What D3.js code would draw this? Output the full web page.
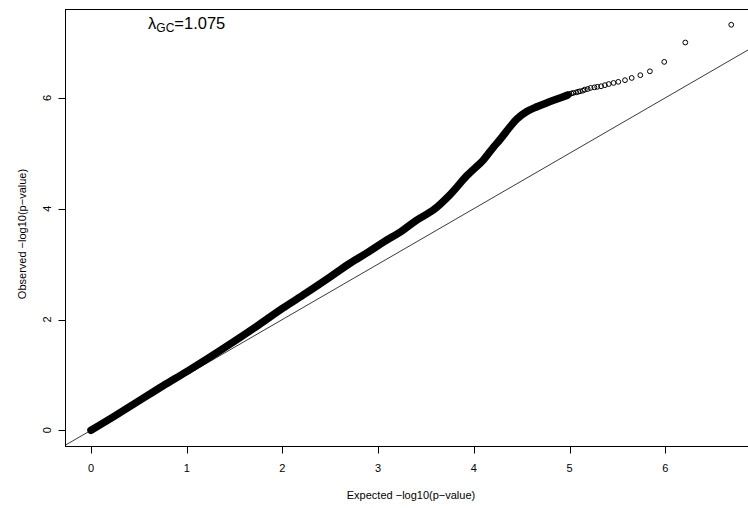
<!DOCTYPE html>
<html>
<head>
<meta charset="utf-8">
<script src="https://cdn.jsdelivr.net/npm/d3@7"></script>
<style>
	body { margin: 0; background: #fff; }
	svg { display: block; font-family: "Liberation Sans", Arial, sans-serif; }
	.box { fill: none; stroke: #000; stroke-width: 1; }
	text { fill: #000; }
</style>
</head>
<body>
<svg id="chart"></svg>
<script>
// dense part of the QQ cloud (expected, observed)
var qqExpected = [0.00, 0.25, 0.50, 0.75, 1.00, 1.25, 1.50, 1.75, 2.00, 2.25, 2.50, 2.71,
	2.90, 3.06, 3.25, 3.40, 3.58, 3.75, 3.93, 4.10, 4.20, 4.27, 4.38, 4.45, 4.55, 4.66,
	4.76, 4.87, 4.98];
var qqObserved = [0.00, 0.26, 0.53, 0.80, 1.06, 1.33, 1.61, 1.90, 2.20, 2.48, 2.77, 3.02,
	3.22, 3.40, 3.60, 3.79, 3.98, 4.25, 4.60, 4.88, 5.10, 5.24, 5.48, 5.62, 5.75, 5.84,
	5.91, 5.98, 6.05];

// separate points at the top end
var tailExpected = [6.69, 6.21, 5.99, 5.84, 5.74, 5.65, 5.58, 5.51, 5.46, 5.41, 5.37, 5.33,
	5.29, 5.26, 5.22, 5.19, 5.16, 5.14, 5.11, 5.09, 5.07, 5.04, 5.02, 5.00, 4.98];
var tailObserved = [7.32, 7.00, 6.65, 6.48, 6.41, 6.36, 6.32, 6.29, 6.27, 6.25, 6.23, 6.21,
	6.20, 6.19, 6.18, 6.16, 6.15, 6.13, 6.12, 6.11, 6.10, 6.09, 6.08, 6.07, 6.06];

var xTicks = [0, 1, 2, 3, 4, 5, 6];
var yTicks = [0, 2, 4, 6];
var lambdaLabel = "1.075";

var width = 748;
var height = 508;
var boxLeft = 65.5;
var boxTop = 9.5;
var boxRight = 750;
var boxBottom = 446.5;
var tickLen = 7;

var x = d3.scaleLinear().domain([0, 6]).range([91, 665.2]);
var y = d3.scaleLinear().domain([0, 6]).range([430.3, 97.9]);

var svg = d3.select("#chart")
.attr("width", width)
.attr("height", height);

svg.append("defs").append("clipPath")
.attr("id", "plotClip")
.append("rect")
.attr("x", boxLeft)
.attr("y", boxTop)
.attr("width", boxRight-boxLeft)
.attr("height", boxBottom-boxTop);

var gPlot = svg.append("g")
.attr("clip-path", "url(#plotClip)");

// y = x reference line across the whole box
var lo = x.invert(boxLeft), hi = x.invert(boxRight);
gPlot.append("line")
.attr("x1", x(lo))
.attr("y1", y(lo))
.attr("x2", x(hi))
.attr("y2", y(hi))
.attr("stroke", "#222")
.attr("stroke-width", 0.9);

// the overlapping circles form a solid band
var band = qqExpected.map(function(e, i) { return [e, qqObserved[i]]; });
gPlot.append("path")
.attr("d", d3.line()
	.curve(d3.curveCatmullRom)
	.x(function(d) { return x(d[0]); })
	.y(function(d) { return y(d[1]); })(band))
.attr("fill", "none")
.attr("stroke", "#000")
.attr("stroke-width", 7.5)
.attr("stroke-linecap", "round")
.attr("stroke-linejoin", "round");

gPlot.selectAll("circle.tail")
.data(tailExpected)
.enter().append("circle")
.attr("class", "tail")
.attr("cx", function(d) { return x(d); })
.attr("cy", function(d, i) { return y(tailObserved[i]); })
.attr("r", 2.4)
.attr("fill", "none")
.attr("stroke", "#000")
.attr("stroke-width", 1);

svg.append("rect")
.attr("class", "box")
.attr("x", boxLeft)
.attr("y", boxTop)
.attr("width", boxRight-boxLeft)
.attr("height", boxBottom-boxTop);

// x axis
var gx = svg.append("g");
gx.selectAll("line")
.data(xTicks)
.enter().append("line")
.attr("x1", function(d) { return Math.round(x(d))+0.5; })
.attr("x2", function(d) { return Math.round(x(d))+0.5; })
.attr("y1", boxBottom)
.attr("y2", boxBottom+tickLen)
.attr("stroke", "#000");
gx.selectAll("text")
.data(xTicks)
.enter().append("text")
.attr("x", function(d) { return x(d); })
.attr("y", 472)
.attr("text-anchor", "middle")
.attr("font-size", 11)
.text(function(d) { return d; });

// y axis, labels turned like R does
var gy = svg.append("g");
gy.selectAll("line")
.data(yTicks)
.enter().append("line")
.attr("x1", boxLeft-tickLen)
.attr("x2", boxLeft)
.attr("y1", function(d) { return Math.round(y(d))+0.5; })
.attr("y2", function(d) { return Math.round(y(d))+0.5; })
.attr("stroke", "#000");
gy.selectAll("text")
.data(yTicks)
.enter().append("text")
.attr("transform", function(d) { return "translate("+[51, y(d)]+") rotate(-90)"; })
.attr("text-anchor", "middle")
.attr("font-size", 11)
.text(function(d) { return d; });

svg.append("text")
.attr("x", 411)
.attr("y", 498.5)
.attr("text-anchor", "middle")
.attr("font-size", 11)
.text("Expected \u2212log10(p\u2212value)");

svg.append("text")
.attr("transform", "translate("+[26, 234]+") rotate(-90)")
.attr("text-anchor", "middle")
.attr("font-size", 11)
.text("Observed \u2212log10(p\u2212value)");

// lambda annotation
var lam = svg.append("text")
.attr("x", x(1))
.attr("y", 29)
.attr("text-anchor", "middle")
.attr("font-size", 16.5);
lam.append("tspan").text("\u03bb");
lam.append("tspan")
.attr("font-size", 12)
.attr("dy", 3)
.text("GC");
lam.append("tspan")
.attr("dy", -3)
.text("=" + lambdaLabel);
</script>
</body>
</html>
